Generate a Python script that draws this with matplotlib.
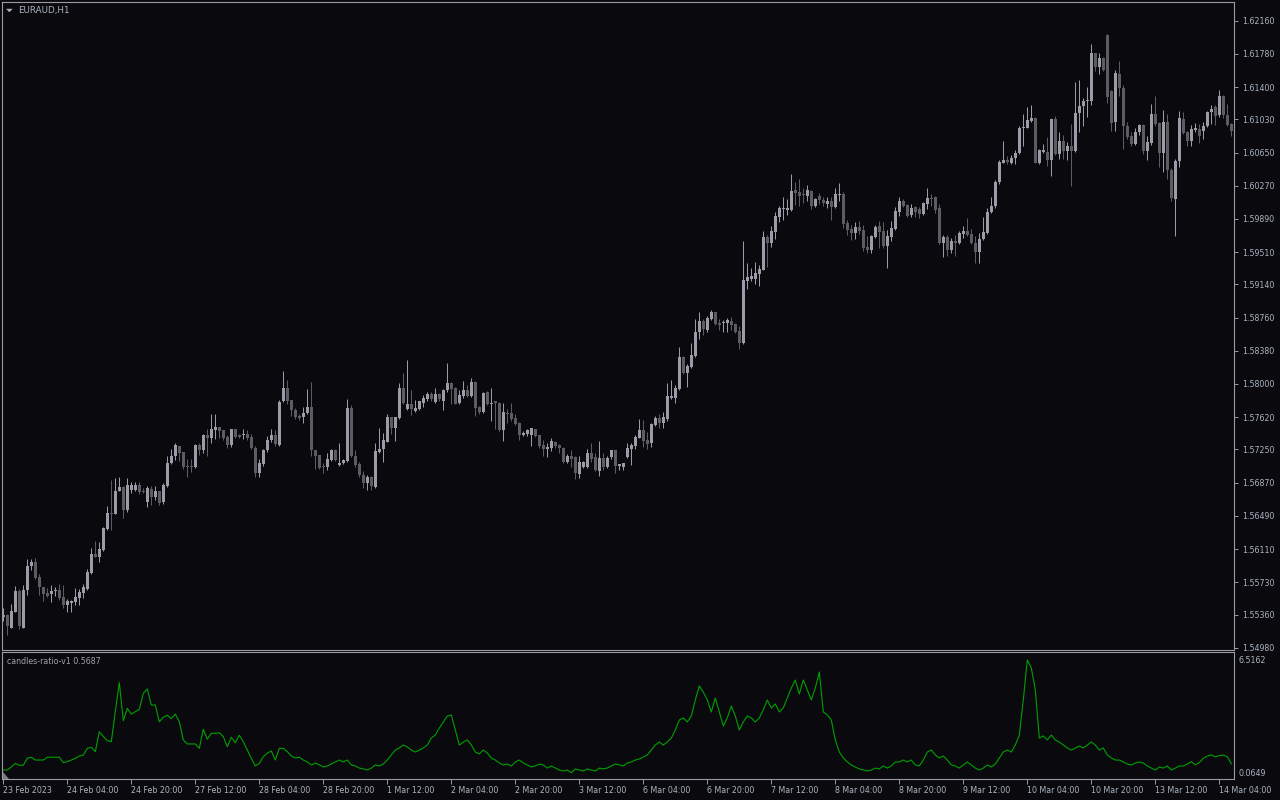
"""
EURAUD H1 candles with the candles-ratio-v1 sub-window (MT4 dark terminal look).
"""
import matplotlib
matplotlib.use("Agg")
import matplotlib.pyplot as plt
from matplotlib.patches import Polygon
import numpy as np

# ── data (hourly bars, oldest first) ──────────────────────────────────────────
OPEN = [
    1.5533, 1.5535, 1.5521, 1.5539, 1.5563, 1.5521, 1.5564, 1.5591, 1.5596, 1.5579,
    1.5567, 1.5561, 1.5559, 1.5563, 1.5564, 1.5556, 1.5547, 1.5549, 1.5550, 1.5555,
    1.5561, 1.5565, 1.5583, 1.5605, 1.5602, 1.5610, 1.5634, 1.5652, 1.5651, 1.5677,
    1.5682, 1.5656, 1.5679, 1.5679, 1.5684, 1.5677, 1.5665, 1.5680, 1.5671, 1.5677,
    1.5665, 1.5683, 1.5709, 1.5718, 1.5729, 1.5722, 1.5706, 1.5706, 1.5705, 1.5730,
    1.5724, 1.5741, 1.5738, 1.5747, 1.5751, 1.5747, 1.5739, 1.5730, 1.5748, 1.5741,
    1.5741, 1.5743, 1.5739, 1.5727, 1.5698, 1.5708, 1.5724, 1.5736, 1.5742, 1.5730,
    1.5781, 1.5795, 1.5782, 1.5770, 1.5763, 1.5762, 1.5767, 1.5774, 1.5724, 1.5719,
    1.5706, 1.5705, 1.5713, 1.5724, 1.5707, 1.5710, 1.5712, 1.5773, 1.5717, 1.5708,
    1.5696, 1.5687, 1.5693, 1.5682, 1.5722, 1.5726, 1.5734, 1.5762, 1.5750, 1.5761,
    1.5795, 1.5771, 1.5777, 1.5769, 1.5771, 1.5778, 1.5783, 1.5789, 1.5779, 1.5789,
    1.5781, 1.5793, 1.5801, 1.5795, 1.5778, 1.5786, 1.5793, 1.5786, 1.5802, 1.5774,
    1.5768, 1.5791, 1.5777, 1.5780, 1.5778, 1.5747, 1.5767, 1.5767, 1.5761, 1.5755,
    1.5742, 1.5743, 1.5742, 1.5748, 1.5741, 1.5730, 1.5726, 1.5727, 1.5733, 1.5730,
    1.5727, 1.5711, 1.5717, 1.5716, 1.5697, 1.5705, 1.5705, 1.5721, 1.5716, 1.5700,
    1.5715, 1.5705, 1.5716, 1.5724, 1.5706, 1.5705, 1.5716, 1.5725, 1.5729, 1.5738,
    1.5747, 1.5736, 1.5732, 1.5753, 1.5761, 1.5755, 1.5760, 1.5784, 1.5784, 1.5794,
    1.5831, 1.5813, 1.5820, 1.5832, 1.5859, 1.5872, 1.5862, 1.5874, 1.5882, 1.5870,
    1.5870, 1.5870, 1.5872, 1.5869, 1.5861, 1.5847, 1.5918, 1.5920, 1.5920, 1.5926,
    1.5931, 1.5968, 1.5962, 1.5974, 1.5991, 1.6000, 1.5999, 1.5999, 1.6022, 1.6020,
    1.6017, 1.6015, 1.6021, 1.6004, 1.6015, 1.6011, 1.6006, 1.6009, 1.6003, 1.6016,
    1.6018, 1.5984, 1.5977, 1.5973, 1.5980, 1.5976, 1.5957, 1.5953, 1.5968, 1.5981,
    1.5975, 1.5958, 1.5968, 1.5977, 1.5997, 1.6009, 1.6005, 1.5993, 1.6003, 1.6000,
    1.5995, 1.6006, 1.6013, 1.6014, 1.6001, 1.5962, 1.5968, 1.5953, 1.5964, 1.5961,
    1.5972, 1.5975, 1.5972, 1.5962, 1.5951, 1.5966, 1.5973, 1.5997, 1.6004, 1.6031,
    1.6053, 1.6057, 1.6053, 1.6059, 1.6064, 1.6093, 1.6093, 1.6101, 1.6105, 1.6053,
    1.6066, 1.6066, 1.6057, 1.6103, 1.6063, 1.6078, 1.6067, 1.6072, 1.6067, 1.6110,
    1.6118, 1.6124, 1.6124, 1.6179, 1.6163, 1.6173, 1.6200, 1.6135, 1.6100, 1.6155,
    1.6139, 1.6095, 1.6084, 1.6075, 1.6088, 1.6097, 1.6067, 1.6076, 1.6109, 1.6099,
    1.6065, 1.6100, 1.6045, 1.6012, 1.6055, 1.6104, 1.6089, 1.6078, 1.6091, 1.6092,
    1.6090, 1.6095, 1.6111, 1.6117, 1.6108, 1.6130, 1.6108, 1.6098,
]
HIGH = [
    1.5543, 1.5537, 1.5548, 1.5569, 1.5565, 1.5570, 1.5600, 1.5600, 1.5601, 1.5582,
    1.5567, 1.5566, 1.5570, 1.5567, 1.5571, 1.5570, 1.5554, 1.5553, 1.5566, 1.5565,
    1.5571, 1.5588, 1.5612, 1.5620, 1.5619, 1.5636, 1.5660, 1.5690, 1.5692, 1.5694,
    1.5683, 1.5692, 1.5688, 1.5688, 1.5688, 1.5681, 1.5683, 1.5683, 1.5683, 1.5677,
    1.5687, 1.5717, 1.5725, 1.5732, 1.5729, 1.5722, 1.5714, 1.5714, 1.5731, 1.5732,
    1.5743, 1.5748, 1.5766, 1.5766, 1.5751, 1.5747, 1.5741, 1.5749, 1.5748, 1.5743,
    1.5749, 1.5747, 1.5743, 1.5729, 1.5714, 1.5725, 1.5740, 1.5748, 1.5747, 1.5782,
    1.5815, 1.5805, 1.5782, 1.5772, 1.5766, 1.5774, 1.5794, 1.5802, 1.5724, 1.5719,
    1.5710, 1.5721, 1.5726, 1.5726, 1.5732, 1.5714, 1.5783, 1.5776, 1.5724, 1.5711,
    1.5700, 1.5696, 1.5695, 1.5732, 1.5750, 1.5744, 1.5766, 1.5762, 1.5762, 1.5801,
    1.5813, 1.5827, 1.5793, 1.5782, 1.5781, 1.5787, 1.5791, 1.5791, 1.5795, 1.5790,
    1.5794, 1.5824, 1.5802, 1.5796, 1.5793, 1.5803, 1.5799, 1.5807, 1.5803, 1.5775,
    1.5791, 1.5792, 1.5795, 1.5781, 1.5779, 1.5778, 1.5771, 1.5778, 1.5766, 1.5756,
    1.5746, 1.5749, 1.5750, 1.5749, 1.5742, 1.5736, 1.5732, 1.5738, 1.5735, 1.5731,
    1.5728, 1.5720, 1.5724, 1.5717, 1.5717, 1.5712, 1.5726, 1.5732, 1.5721, 1.5735,
    1.5721, 1.5717, 1.5724, 1.5724, 1.5708, 1.5710, 1.5732, 1.5732, 1.5741, 1.5760,
    1.5759, 1.5745, 1.5755, 1.5763, 1.5766, 1.5768, 1.5801, 1.5804, 1.5799, 1.5842,
    1.5832, 1.5823, 1.5847, 1.5874, 1.5882, 1.5874, 1.5878, 1.5885, 1.5882, 1.5874,
    1.5873, 1.5876, 1.5877, 1.5870, 1.5866, 1.5964, 1.5939, 1.5933, 1.5940, 1.5936,
    1.5975, 1.5971, 1.5981, 1.5997, 1.6004, 1.6014, 1.6012, 1.6040, 1.6031, 1.6035,
    1.6024, 1.6028, 1.6022, 1.6013, 1.6019, 1.6014, 1.6014, 1.6014, 1.6024, 1.6030,
    1.6020, 1.5988, 1.5982, 1.5986, 1.5987, 1.5982, 1.5970, 1.5971, 1.5982, 1.5987,
    1.5986, 1.5976, 1.5987, 1.6003, 1.6014, 1.6012, 1.6006, 1.6006, 1.6004, 1.6003,
    1.6008, 1.6024, 1.6017, 1.6015, 1.6006, 1.5971, 1.5971, 1.5967, 1.5971, 1.5975,
    1.5981, 1.5990, 1.5977, 1.5970, 1.5973, 1.5991, 1.6002, 1.6014, 1.6034, 1.6056,
    1.6078, 1.6061, 1.6062, 1.6068, 1.6095, 1.6109, 1.6117, 1.6120, 1.6106, 1.6069,
    1.6075, 1.6083, 1.6104, 1.6107, 1.6089, 1.6085, 1.6077, 1.6098, 1.6146, 1.6148,
    1.6127, 1.6140, 1.6189, 1.6179, 1.6179, 1.6174, 1.6201, 1.6137, 1.6160, 1.6170,
    1.6142, 1.6100, 1.6088, 1.6093, 1.6098, 1.6098, 1.6084, 1.6121, 1.6130, 1.6100,
    1.6114, 1.6109, 1.6047, 1.6058, 1.6113, 1.6112, 1.6090, 1.6097, 1.6099, 1.6098,
    1.6100, 1.6113, 1.6120, 1.6120, 1.6137, 1.6131, 1.6121, 1.6099,
]
LOW = [
    1.5528, 1.5512, 1.5520, 1.5539, 1.5519, 1.5520, 1.5558, 1.5587, 1.5577, 1.5558,
    1.5551, 1.5556, 1.5550, 1.5557, 1.5553, 1.5543, 1.5539, 1.5539, 1.5547, 1.5547,
    1.5555, 1.5564, 1.5582, 1.5602, 1.5596, 1.5609, 1.5633, 1.5633, 1.5651, 1.5677,
    1.5647, 1.5653, 1.5675, 1.5677, 1.5674, 1.5675, 1.5659, 1.5661, 1.5667, 1.5661,
    1.5663, 1.5682, 1.5708, 1.5713, 1.5712, 1.5703, 1.5694, 1.5699, 1.5704, 1.5719,
    1.5721, 1.5717, 1.5732, 1.5737, 1.5738, 1.5736, 1.5727, 1.5728, 1.5738, 1.5738,
    1.5737, 1.5736, 1.5726, 1.5694, 1.5694, 1.5706, 1.5722, 1.5733, 1.5729, 1.5729,
    1.5779, 1.5777, 1.5763, 1.5760, 1.5759, 1.5755, 1.5766, 1.5717, 1.5703, 1.5703,
    1.5698, 1.5701, 1.5712, 1.5712, 1.5706, 1.5708, 1.5711, 1.5716, 1.5705, 1.5694,
    1.5681, 1.5679, 1.5679, 1.5681, 1.5721, 1.5711, 1.5733, 1.5743, 1.5735, 1.5760,
    1.5777, 1.5770, 1.5765, 1.5768, 1.5770, 1.5774, 1.5781, 1.5780, 1.5778, 1.5780,
    1.5770, 1.5791, 1.5777, 1.5777, 1.5777, 1.5784, 1.5785, 1.5785, 1.5763, 1.5766,
    1.5767, 1.5776, 1.5758, 1.5748, 1.5746, 1.5735, 1.5755, 1.5758, 1.5753, 1.5736,
    1.5740, 1.5740, 1.5729, 1.5739, 1.5727, 1.5717, 1.5716, 1.5723, 1.5727, 1.5721,
    1.5709, 1.5710, 1.5705, 1.5691, 1.5692, 1.5704, 1.5704, 1.5711, 1.5700, 1.5695,
    1.5701, 1.5704, 1.5714, 1.5698, 1.5701, 1.5702, 1.5715, 1.5707, 1.5726, 1.5738,
    1.5728, 1.5725, 1.5728, 1.5752, 1.5750, 1.5750, 1.5758, 1.5783, 1.5778, 1.5793,
    1.5811, 1.5797, 1.5818, 1.5831, 1.5851, 1.5856, 1.5860, 1.5873, 1.5867, 1.5862,
    1.5859, 1.5860, 1.5862, 1.5858, 1.5840, 1.5846, 1.5909, 1.5918, 1.5914, 1.5912,
    1.5930, 1.5934, 1.5957, 1.5966, 1.5985, 1.5988, 1.5993, 1.5998, 1.6005, 1.6004,
    1.6007, 1.6009, 1.6000, 1.6003, 1.6006, 1.6004, 1.6002, 1.5988, 1.6002, 1.6009,
    1.5979, 1.5971, 1.5965, 1.5966, 1.5972, 1.5952, 1.5950, 1.5950, 1.5967, 1.5956,
    1.5956, 1.5933, 1.5964, 1.5976, 1.5992, 1.6003, 1.5991, 1.5991, 1.5991, 1.5990,
    1.5993, 1.6000, 1.6004, 1.5996, 1.5960, 1.5945, 1.5946, 1.5950, 1.5946, 1.5960,
    1.5967, 1.5970, 1.5960, 1.5939, 1.5939, 1.5965, 1.5972, 1.5996, 1.6002, 1.6029,
    1.6053, 1.6052, 1.6052, 1.6052, 1.6063, 1.6073, 1.6093, 1.6100, 1.6053, 1.6052,
    1.6064, 1.6050, 1.6038, 1.6062, 1.6058, 1.6058, 1.6057, 1.6027, 1.6066, 1.6089,
    1.6095, 1.6106, 1.6120, 1.6158, 1.6155, 1.6158, 1.6122, 1.6090, 1.6090, 1.6130,
    1.6069, 1.6081, 1.6072, 1.6074, 1.6085, 1.6063, 1.6057, 1.6074, 1.6095, 1.6049,
    1.6043, 1.6035, 1.6009, 1.5969, 1.6049, 1.6086, 1.6072, 1.6072, 1.6089, 1.6076,
    1.6080, 1.6094, 1.6098, 1.6097, 1.6106, 1.6105, 1.6095, 1.6084,
]
CLOSE = [
    1.5535, 1.5523, 1.5540, 1.5563, 1.5523, 1.5564, 1.5592, 1.5596, 1.5578, 1.5567,
    1.5559, 1.5557, 1.5563, 1.5564, 1.5555, 1.5547, 1.5551, 1.5551, 1.5556, 1.5562,
    1.5567, 1.5585, 1.5605, 1.5602, 1.5611, 1.5635, 1.5652, 1.5651, 1.5677, 1.5682,
    1.5656, 1.5684, 1.5684, 1.5684, 1.5676, 1.5676, 1.5681, 1.5671, 1.5677, 1.5664,
    1.5684, 1.5709, 1.5718, 1.5730, 1.5721, 1.5705, 1.5705, 1.5705, 1.5730, 1.5724,
    1.5741, 1.5738, 1.5748, 1.5751, 1.5746, 1.5738, 1.5730, 1.5748, 1.5739, 1.5739,
    1.5743, 1.5738, 1.5727, 1.5698, 1.5709, 1.5724, 1.5736, 1.5742, 1.5731, 1.5779,
    1.5795, 1.5781, 1.5770, 1.5762, 1.5761, 1.5767, 1.5774, 1.5724, 1.5718, 1.5704,
    1.5705, 1.5714, 1.5724, 1.5713, 1.5709, 1.5713, 1.5773, 1.5717, 1.5707, 1.5696,
    1.5687, 1.5693, 1.5683, 1.5723, 1.5726, 1.5736, 1.5762, 1.5750, 1.5762, 1.5795,
    1.5778, 1.5777, 1.5771, 1.5773, 1.5780, 1.5784, 1.5789, 1.5783, 1.5789, 1.5783,
    1.5793, 1.5801, 1.5794, 1.5777, 1.5787, 1.5793, 1.5786, 1.5802, 1.5773, 1.5768,
    1.5790, 1.5777, 1.5778, 1.5778, 1.5747, 1.5768, 1.5766, 1.5760, 1.5754, 1.5742,
    1.5744, 1.5747, 1.5750, 1.5740, 1.5729, 1.5726, 1.5728, 1.5735, 1.5729, 1.5727,
    1.5711, 1.5717, 1.5714, 1.5698, 1.5711, 1.5711, 1.5721, 1.5714, 1.5701, 1.5715,
    1.5705, 1.5715, 1.5724, 1.5706, 1.5708, 1.5709, 1.5727, 1.5730, 1.5739, 1.5747,
    1.5735, 1.5731, 1.5754, 1.5761, 1.5755, 1.5762, 1.5786, 1.5786, 1.5795, 1.5831,
    1.5813, 1.5821, 1.5833, 1.5860, 1.5872, 1.5863, 1.5876, 1.5882, 1.5869, 1.5868,
    1.5871, 1.5873, 1.5868, 1.5860, 1.5847, 1.5919, 1.5923, 1.5924, 1.5927, 1.5932,
    1.5968, 1.5962, 1.5975, 1.5992, 1.6001, 1.6001, 1.6001, 1.6021, 1.6019, 1.6015,
    1.6016, 1.6022, 1.6004, 1.6012, 1.6011, 1.6007, 1.6009, 1.6003, 1.6018, 1.6018,
    1.5983, 1.5976, 1.5973, 1.5980, 1.5975, 1.5956, 1.5953, 1.5970, 1.5980, 1.5974,
    1.5958, 1.5970, 1.5979, 1.5998, 1.6009, 1.6004, 1.5992, 1.6001, 1.5997, 1.5995,
    1.6007, 1.6013, 1.6012, 1.5999, 1.5961, 1.5968, 1.5953, 1.5964, 1.5961, 1.5973,
    1.5975, 1.5971, 1.5962, 1.5951, 1.5966, 1.5974, 1.5997, 1.6004, 1.6031, 1.6054,
    1.6057, 1.6054, 1.6059, 1.6064, 1.6093, 1.6094, 1.6102, 1.6105, 1.6053, 1.6068,
    1.6068, 1.6056, 1.6103, 1.6063, 1.6078, 1.6067, 1.6072, 1.6067, 1.6110, 1.6118,
    1.6124, 1.6125, 1.6179, 1.6163, 1.6173, 1.6159, 1.6129, 1.6099, 1.6156, 1.6139,
    1.6095, 1.6083, 1.6075, 1.6089, 1.6097, 1.6067, 1.6077, 1.6109, 1.6098, 1.6065,
    1.6100, 1.6045, 1.6013, 1.6055, 1.6105, 1.6087, 1.6078, 1.6092, 1.6093, 1.6084,
    1.6095, 1.6112, 1.6115, 1.6107, 1.6130, 1.6108, 1.6097, 1.6090,
]
RATIO = [
    0.22, 0.22, 0.39, 0.60, 0.49, 0.49, 0.89, 0.95, 0.79, 0.79,
    0.79, 0.95, 0.95, 0.95, 0.95, 0.64, 0.70, 0.79, 0.89, 1.02,
    1.08, 1.46, 1.52, 1.27, 2.41, 2.13, 1.90, 1.84, 3.56, 5.22,
    3.04, 3.75, 3.42, 3.56, 3.69, 4.61, 4.86, 3.94, 3.94, 2.98,
    3.24, 3.35, 3.16, 3.42, 2.98, 1.94, 1.71, 1.71, 1.71, 1.46,
    2.55, 1.98, 2.32, 2.32, 2.35, 2.13, 1.55, 2.09, 1.78, 2.21,
    1.84, 1.36, 0.89, 0.45, 0.60, 0.98, 1.18, 1.31, 0.79, 1.46,
    1.46, 1.27, 1.02, 0.91, 0.95, 0.79, 0.68, 0.51, 0.62, 0.51,
    0.39, 0.45, 0.56, 0.68, 0.79, 0.68, 0.79, 0.51, 0.45, 0.33,
    0.28, 0.22, 0.33, 0.51, 0.45, 0.56, 0.79, 1.08, 1.36, 1.48,
    1.65, 1.54, 1.36, 1.25, 1.36, 1.48, 1.65, 2.05, 2.22, 2.62,
    2.97, 3.31, 3.37, 2.51, 1.65, 1.82, 1.94, 1.65, 1.25, 1.14,
    1.36, 1.19, 0.91, 0.79, 0.62, 0.51, 0.56, 0.45, 0.68, 0.79,
    0.62, 0.51, 0.39, 0.45, 0.56, 0.51, 0.33, 0.45, 0.33, 0.22,
    0.16, 0.22, 0.0649, 0.28, 0.22, 0.16, 0.28, 0.22, 0.16, 0.33,
    0.28, 0.33, 0.45, 0.56, 0.51, 0.45, 0.62, 0.68, 0.79, 0.85,
    0.96, 1.08, 1.36, 1.65, 1.82, 1.65, 1.82, 2.05, 2.51, 3.08,
    3.20, 2.97, 3.31, 4.23, 5.03, 4.68, 4.23, 3.54, 4.34, 3.54,
    2.74, 3.20, 3.88, 3.31, 2.51, 2.97, 3.31, 3.20, 2.97, 3.20,
    3.66, 4.23, 3.77, 4.00, 3.54, 3.77, 4.34, 4.91, 5.37, 4.57,
    5.37, 4.80, 4.23, 4.91, 5.83, 3.54, 3.37, 3.08, 1.94, 1.25,
    0.91, 0.68, 0.51, 0.39, 0.28, 0.22, 0.16, 0.22, 0.33, 0.28,
    0.45, 0.33, 0.45, 0.68, 0.68, 0.79, 0.68, 0.79, 0.51, 0.45,
    0.79, 1.25, 1.36, 1.08, 0.91, 1.02, 0.79, 0.51, 0.45, 0.33,
    0.51, 0.68, 0.51, 0.33, 0.22, 0.33, 0.51, 0.39, 0.56, 0.91,
    1.25, 1.36, 1.25, 1.65, 2.22, 4.23, 6.5162, 6.06, 4.80, 2.05,
    2.17, 1.94, 2.22, 1.94, 1.82, 1.65, 1.48, 1.36, 1.48, 1.59,
    1.48, 1.65, 1.82, 1.65, 1.36, 1.48, 1.08, 0.91, 0.79, 0.79,
    0.68, 0.56, 0.51, 0.62, 0.68, 0.62, 0.45, 0.33, 0.22, 0.39,
    0.33, 0.45, 0.22, 0.33, 0.45, 0.45, 0.56, 0.70, 0.51, 0.64,
    0.89, 1.02, 1.08, 0.98, 1.04, 1.08, 0.98, 0.5687,
]

PRICE_TICKS = [1.62160, 1.61780, 1.61400, 1.61030, 1.60650, 1.60270, 1.59890,
               1.59510, 1.59140, 1.58760, 1.58380, 1.58000, 1.57620, 1.57250,
               1.56870, 1.56490, 1.56110, 1.55730, 1.55360, 1.54980]
DATE_LABELS = ["23 Feb 2023", "24 Feb 04:00", "24 Feb 20:00", "27 Feb 12:00",
               "28 Feb 04:00", "28 Feb 20:00", "1 Mar 12:00", "2 Mar 04:00",
               "2 Mar 20:00", "3 Mar 12:00", "6 Mar 04:00", "6 Mar 20:00",
               "7 Mar 12:00", "8 Mar 04:00", "8 Mar 20:00", "9 Mar 12:00",
               "10 Mar 04:00", "10 Mar 20:00", "13 Mar 12:00", "14 Mar 04:00"]
DATE_STEP = 16                    # one time label every 16 hourly bars
RATIO_TICKS = [6.5162, 0.0649]    # max / min shown by the terminal
SYMBOL = "EURAUD,H1"
INDICATOR = "candles-ratio-v1"

# ── look ──────────────────────────────────────────────────────────────────────
BG = "#0a0a0e"
BULL = "#9c9ca8"
BEAR = "#5c5c63"
FRAME = "#9a9aa2"
TEXT = "#aab4c2"
LINE = "#00a000"
FS = 5.7

W, H = 1280, 800


def fx(px): return px / W
def fy(px): return 1 - px / H


def style(ax):
    ax.set_facecolor(BG)
    for s in ax.spines.values():
        s.set_color(FRAME); s.set_linewidth(0.8)
    ax.yaxis.tick_right()
    ax.tick_params(axis="y", direction="out", length=3, width=0.7, color=FRAME,
                   labelcolor=TEXT, labelsize=FS, pad=3)


def main():
    fig = plt.figure(figsize=(W / 100, H / 100), dpi=100, facecolor=BG)
    left, right = 2.3, 1234
    ax = fig.add_axes([fx(left), fy(650), fx(right - left), (650 - 2.3) / H])
    ax2 = fig.add_axes([fx(left), fy(778.7), fx(right - left), (778.7 - 652) / H])

    o, h, l, c = (np.array(v) for v in (OPEN, HIGH, LOW, CLOSE))
    x = np.arange(len(o))
    col = np.where(c >= o, BULL, BEAR)

    # ── candles ───────────────────────────────────────────────────────────────
    ax.vlines(x, l, h, colors=col, linewidth=0.72)
    ax.bar(x, np.maximum(np.abs(c - o), 0.00009), bottom=np.minimum(o, c),
           width=0.75, color=col, linewidth=0)

    xlim = (-0.25, -0.25 + (right - left) / 4)
    ax.set_xlim(*xlim)
    ax.set_ylim(1.549536, 1.623707)
    style(ax)
    ax.set_xticks([])
    ax.set_yticks(PRICE_TICKS)
    ax.set_yticklabels([f"{t:.5f}" for t in PRICE_TICKS])

    # ── indicator window ──────────────────────────────────────────────────────
    ax2.plot(x, RATIO, color=LINE, linewidth=0.8)
    ax2.set_xlim(*xlim)
    ax2.set_ylim(-0.2785, 6.974)
    style(ax2)
    ax2.tick_params(axis="y", length=0)
    ax2.set_yticks(RATIO_TICKS)
    ax2.set_yticklabels([f"{t:.4f}" for t in RATIO_TICKS])
    ax2.set_xticks(np.arange(len(DATE_LABELS)) * DATE_STEP)
    ax2.set_xticklabels(DATE_LABELS)
    ax2.tick_params(axis="x", direction="out", length=3.5, width=0.7, color=FRAME,
                    labelcolor=TEXT, labelsize=FS, pad=1.5)
    for lab in ax2.get_xticklabels():
        lab.set_ha("left")

    # ── captions & little markers ────────────────────────────────────────────
    fig.text(fx(18), fy(10.5), SYMBOL, color=TEXT, fontsize=6.3, va="center", ha="left")
    fig.patches.append(Polygon([[fx(6), fy(8.8)], [fx(12.7), fy(8.8)], [fx(9.35), fy(12.2)]],
                               closed=True, transform=fig.transFigure, color=TEXT, lw=0))
    fig.text(fx(7), fy(661.7), f"{INDICATOR} {RATIO[-1]:.4f}", color="#a0a0aa",
             fontsize=FS, va="center", ha="left")
    fig.patches.append(Polygon([[fx(2.5), fy(771.5)], [fx(2.5), fy(778.5)], [fx(9), fy(778.5)]],
                               closed=True, transform=fig.transFigure, color="#7a7a82", lw=0))

    fig.savefig("out.png", dpi=100, facecolor=BG)
    plt.close(fig)


if __name__ == "__main__":
    main()
